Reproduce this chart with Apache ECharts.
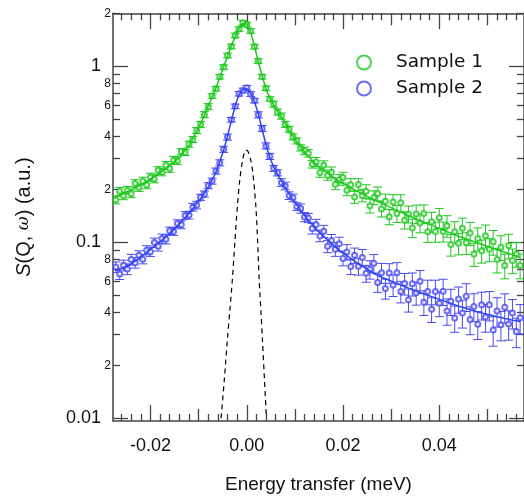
<!DOCTYPE html>
<html><head><meta charset="utf-8">
<script src="https://cdn.jsdelivr.net/npm/echarts@6/dist/echarts.min.js"></script>
<style>html,body{margin:0;padding:0;background:#fff}#c{width:524px;height:501px}</style>
</head><body><div id="c"></div>
<script>
// ---- data ----
const energies = [
-0.0272,-0.0264,-0.0256,-0.0248,-0.0240,-0.0232,-0.0224,-0.0216,-0.0208,-0.0200,
-0.0192,-0.0184,-0.0176,-0.0168,-0.0160,-0.0152,-0.0144,-0.0136,-0.0128,-0.0120,
-0.0112,-0.0104,-0.0096,-0.0088,-0.0080,-0.0072,-0.0064,-0.0056,-0.0048,-0.0040,
-0.0032,-0.0024,-0.0016,-0.0008,0.0000,0.0008,0.0016,0.0024,0.0032,0.0040,
0.0048,0.0056,0.0064,0.0072,0.0080,0.0088,0.0096,0.0104,0.0112,0.0120,
0.0128,0.0136,0.0144,0.0152,0.0160,0.0168,0.0176,0.0184,0.0192,0.0200,
0.0208,0.0216,0.0224,0.0232,0.0240,0.0248,0.0256,0.0264,0.0272,0.0280,
0.0288,0.0296,0.0304,0.0312,0.0320,0.0328,0.0336,0.0344,0.0352,0.0360,
0.0368,0.0376,0.0384,0.0392,0.0400,0.0408,0.0416,0.0424,0.0432,0.0440,
0.0448,0.0456,0.0464,0.0472,0.0480,0.0488,0.0496,0.0504,0.0512,0.0520,
0.0528,0.0536,0.0544,0.0552,0.0560,0.0568];

const sample1 = [
0.1740,0.1947,0.1837,0.1977,0.1887,0.2160,0.2048,0.2230,0.2119,0.2351,
0.2291,0.2563,0.2510,0.2738,0.2628,0.2929,0.2911,0.3276,0.3237,0.3610,
0.3842,0.4321,0.4672,0.5312,0.5897,0.6778,0.7461,0.8724,0.9891,1.152,
1.296,1.497,1.628,1.768,1.726,1.589,1.294,1.071,0.8732,0.7512,
0.6521,0.6097,0.5497,0.5211,0.4681,0.4391,0.3972,0.3771,0.3441,0.3311,
0.3204,0.2778,0.2862,0.2491,0.2738,0.2396,0.2503,0.2140,0.2266,0.2335,
0.1977,0.2125,0.1808,0.2127,0.1847,0.1947,0.1612,0.1799,0.1890,0.1547,
0.1708,0.1398,0.1694,0.1457,0.1677,0.1336,0.1446,0.1207,0.1450,0.1287,
0.1455,0.1147,0.1309,0.1150,0.1378,0.1152,0.1242,0.0970,0.1148,0.0986,
0.1203,0.0993,0.1129,0.0858,0.1050,0.0896,0.1090,0.0912,0.1006,0.0797,
0.0938,0.0738,0.0958,0.0789,0.0859,0.0738];

const sample2 = [
0.0723,0.0661,0.0740,0.0704,0.0798,0.0766,0.0844,0.0802,0.0902,0.0884,
0.0996,0.0948,0.1049,0.1040,0.1161,0.1152,0.1278,0.1257,0.1421,0.1427,
0.1583,0.1628,0.1802,0.1879,0.2098,0.2228,0.2541,0.2829,0.3376,0.3962,
0.4968,0.5921,0.6985,0.7291,0.7556,0.6953,0.6382,0.5298,0.4431,0.3529,
0.3077,0.2631,0.2482,0.2189,0.2091,0.1842,0.1789,0.1598,0.1556,0.1391,
0.1375,0.1197,0.1262,0.1084,0.1155,0.0949,0.1025,0.0914,0.0981,0.0808,
0.0881,0.0728,0.0843,0.0731,0.0820,0.0666,0.0702,0.0760,0.0590,0.0671,
0.0546,0.0669,0.0572,0.0672,0.0526,0.0583,0.0472,0.0582,0.0517,0.0601,
0.0457,0.0525,0.0417,0.0525,0.0450,0.0527,0.0407,0.0462,0.0371,0.0476,
0.0397,0.0493,0.0364,0.0432,0.0342,0.0441,0.0376,0.0441,0.0317,0.0407,
0.0340,0.0428,0.0343,0.0397,0.0311,0.0372];

const fit1 = [
0.1813,0.1854,0.1894,0.1938,0.1986,0.2038,0.2090,0.2144,0.2207,0.2283,
0.2362,0.2441,0.2535,0.2633,0.2738,0.2844,0.2970,0.3150,0.3337,0.3539,
0.3878,0.4278,0.4713,0.5260,0.5957,0.6711,0.7520,0.8647,0.9974,1.141,
1.308,1.483,1.642,1.751,1.741,1.573,1.306,1.060,0.8810,0.7439,
0.6589,0.6035,0.5554,0.5155,0.4732,0.4336,0.4018,0.3729,0.3479,0.3272,
0.3081,0.2924,0.2779,0.2650,0.2559,0.2470,0.2384,0.2301,0.2222,0.2162,
0.2103,0.2043,0.1987,0.1934,0.1885,0.1837,0.1791,0.1747,0.1703,0.1663,
0.1627,0.1589,0.1554,0.1518,0.1484,0.1452,0.1418,0.1387,0.1355,0.1327,
0.1299,0.1274,0.1247,0.1223,0.1198,0.1175,0.1150,0.1128,0.1104,0.1083,
0.1065,0.1045,0.1026,0.1009,0.0991,0.0974,0.0956,0.0940,0.0923,0.0906,
0.0893,0.0878,0.0863,0.0848,0.0834,0.0820];

const fit2 = [
0.0689,0.0703,0.0718,0.0733,0.0753,0.0782,0.0812,0.0844,0.0876,0.0911,
0.0949,0.0987,0.1028,0.1072,0.1116,0.1176,0.1241,0.1309,0.1380,0.1456,
0.1552,0.1659,0.1771,0.1906,0.2066,0.2259,0.2505,0.2867,0.3341,0.4008,
0.4915,0.5988,0.6906,0.7362,0.7470,0.7034,0.6310,0.5364,0.4374,0.3581,
0.3025,0.2678,0.2434,0.2233,0.2048,0.1879,0.1748,0.1631,0.1522,0.1423,
0.1335,0.1260,0.1191,0.1129,0.1079,0.1032,0.0986,0.0942,0.0900,0.0869,
0.0839,0.0809,0.0781,0.0754,0.0732,0.0709,0.0688,0.0667,0.0648,0.0633,
0.0620,0.0608,0.0596,0.0584,0.0572,0.0561,0.0549,0.0539,0.0528,0.0518,
0.0508,0.0500,0.0491,0.0482,0.0474,0.0466,0.0457,0.0449,0.0442,0.0433,
0.0427,0.0421,0.0414,0.0408,0.0402,0.0397,0.0392,0.0387,0.0382,0.0377,
0.0374,0.0369,0.0365,0.0361,0.0358,0.0354];

// relative error bars, percent
const err1 = [
5,5,5,5,5,5,5,5,5,5, 5,5,5,5,5,5,5,4,4,4, 4,4,4,4,4,3,3,3,3,3, 3,3,3,3,3,3,3,3,3,3,
3,4,4,4,4,4,4,4,4,5, 5,5,6,6,6,6,7,7,7,7, 7,8,8,8,8,9,9,9,9,10, 10,10,10,11,11,11,11,12,12,12,
12,13,13,13,13,13,14,14,14,14, 14,14,15,15,15,15,15,15,16,16, 16,16,16,16,16,16];
const err2 = [
7,7,7,7,7,7,6,6,6,6, 6,6,6,6,5,5,5,5,5,5, 5,5,4,4,4,4,4,4,4,4, 3,3,3,3,3,3,3,4,4,4,
4,4,4,5,5,5,5,5,6,6, 6,7,7,7,8,8,8,9,9,9, 10,10,10,11,11,11,12,12,12,13, 13,13,14,14,14,14,15,15,15,15,
16,16,16,16,16,17,17,17,17,17, 18,18,18,18,18,18,18,19,19,19, 19,19,19,19,19,19];

// resolution function (dashed)
const resEnergies = [-0.00533,-0.00465,-0.00403,-0.00351,-0.00300,-0.00248,-0.00196,-0.00145,-0.00093,-0.00052,-0.00017,
  0.00021,0.00072,0.00124,0.00190,0.00227,0.00258,0.00293,0.00326,0.00368,0.00409];
const resValues = [0.0100,0.0167,0.0279,0.0412,0.0611,0.0991,0.1587,0.226,0.2859,0.3217,0.334,
  0.3302,0.3013,0.2508,0.1587,0.0991,0.0611,0.0412,0.0279,0.0165,0.0100];

// tick values
const xLabelTicks = [-0.02, 0, 0.02, 0.04];
const xMidTicks = [-0.01, 0.01, 0.03, 0.05];
const xMinorTicks = [-0.026,-0.024,-0.022,-0.018,-0.016,-0.014,-0.012,-0.008,-0.006,-0.004,-0.002,
  0.002,0.004,0.006,0.008,0.012,0.014,0.016,0.018,0.022,0.024,0.026,0.028,0.032,0.034,0.036,0.038,
  0.042,0.044,0.046,0.048,0.052,0.054,0.056];
const yMajorTicks = [0.01, 0.1, 1];
const yMinorTicks = [0.02,0.03,0.04,0.05,0.06,0.07,0.08,0.09,0.2,0.3,0.4,0.5,0.6,0.7,0.8,0.9,2];
const yMinorLabels = [0.02,0.04,0.06,0.08,0.2,0.4,0.6,0.8,2];

// ---- styling ----
const GREEN = '#1ec81e', BLUE = '#4a4af2', BLUE_LINE = '#2b45f4';
const X_MIN = -0.02779, X_MAX = 0.0576, Y_MIN = 0.00965, Y_MAX = 2;
const FONT = '"Liberation Sans", Arial, sans-serif';
const AX = '#444';

function xAx(pos, ticks, len, label, line) {
  return {
    type: 'value', position: pos, min: X_MIN, max: X_MAX,
    axisLine: {show: line, onZero: false, lineStyle: {color: AX, width: 1.5}},
    axisTick: {show: true, inside: true, length: len, customValues: ticks, lineStyle: {color: AX, width: 1.3}},
    axisLabel: label ? {show: true, customValues: ticks, margin: 16, fontSize: 18, color: '#111', fontFamily: FONT,
      formatter: v => (Math.abs(v) < 1e-12 ? '0.00' : v.toFixed(2))} : {show: false},
    splitLine: {show: false}
  };
}
function yAx(pos, ticks, len, labels, fs, margin, fmt, line) {
  return {
    type: 'log', logBase: 10, position: pos, min: Y_MIN, max: Y_MAX,
    axisLine: {show: line, onZero: false, lineStyle: {color: AX, width: 1.5}},
    axisTick: {show: true, inside: true, length: len, customValues: ticks, lineStyle: {color: AX, width: 1.3}},
    axisLabel: labels ? {show: true, customValues: labels, margin: margin, fontSize: fs, color: '#111', fontFamily: FONT, formatter: fmt} : {show: false},
    splitLine: {show: false}, minorTick: {show: false}
  };
}
const majFmt = v => String(Number(v.toPrecision(2)));
const minFmt = v => String(Math.round(v / Math.pow(10, Math.floor(Math.log10(v) + 1e-9))));

const xAxes = [
  xAx('bottom', xLabelTicks, 16, true, true),
  xAx('bottom', xMidTicks, 12, false, false),
  xAx('bottom', xMinorTicks, 7, false, false),
  xAx('top', xLabelTicks, 16, false, true),
  xAx('top', xMidTicks, 12, false, false),
  xAx('top', xMinorTicks, 7, false, false)
];
Object.assign(xAxes[0], {name: 'Energy transfer (meV)', nameLocation: 'middle', nameGap: 54,
  nameTextStyle: {fontSize: 19, color: '#111', fontFamily: FONT}});

const yAxes = [
  yAx('left', yMajorTicks, 15, yMajorTicks, 18, 12, majFmt, true),
  yAx('left', yMinorTicks, 7, yMinorLabels, 12, 2, minFmt, false),
  yAx('right', yMajorTicks, 15, null, 0, 0, null, true),
  yAx('right', yMinorTicks, 7, null, 0, 0, null, false)
];
Object.assign(yAxes[0], {name: '{i|S}(Q, {w|ω}) (a.u.)', nameLocation: 'middle', nameGap: 79, nameRotate: 90,
  nameTextStyle: {fontSize: 20, color: '#111', fontFamily: FONT,
    rich: {i: {fontSize: 20, fontStyle: 'italic', fontFamily: FONT, color: '#111'},
           w: {fontSize: 17, fontStyle: 'italic', fontFamily: '"DejaVu Serif", serif', color: '#111'}}}});

function errBars(values, errs) {
  return energies.map((e, i) => [e, values[i] * (1 - errs[i] / 100), values[i] * (1 + errs[i] / 100)]);
}
function barRenderer(color) {
  return function (params, api) {
    const x = api.value(0);
    const a = api.coord([x, api.value(1)]);
    const b = api.coord([x, api.value(2)]);
    const w = 4.5;
    const st = () => ({stroke: color, lineWidth: 1});
    return {type: 'group', children: [
      {type: 'line', shape: {x1: a[0], y1: a[1], x2: b[0], y2: b[1]}, style: st()},
      {type: 'line', shape: {x1: a[0] - w, y1: a[1], x2: a[0] + w, y2: a[1]}, style: st()},
      {type: 'line', shape: {x1: b[0] - w, y1: b[1], x2: b[0] + w, y2: b[1]}, style: st()}
    ]};
  };
}

const chart = echarts.init(document.getElementById('c'), null, {renderer: 'canvas'});
chart.setOption({
  animation: false,
  backgroundColor: '#fff',
  grid: {left: 113, top: 13.3, width: 413.3, height: 407.7},
  xAxis: xAxes,
  yAxis: yAxes,
  legend: {
    orient: 'vertical', left: 351, top: 48, itemWidth: 14, itemHeight: 14, itemGap: 7,
    icon: 'emptyCircle', itemStyle: {borderWidth: 1.2},
    textStyle: {fontFamily: '"DejaVu Sans", sans-serif', fontSize: 18.5, color: '#111', padding: [0, 0, 0, 20]},
    data: ['Sample 1', 'Sample 2']
  },
  series: [
    {type: 'custom', name: 'err1', data: errBars(sample1, err1), encode: {x: 0, y: [1, 2]},
      renderItem: barRenderer(GREEN), clip: true, silent: true, z: 2},
    {type: 'custom', name: 'err2', data: errBars(sample2, err2), encode: {x: 0, y: [1, 2]},
      renderItem: barRenderer(BLUE), clip: true, silent: true, z: 2},
    {type: 'scatter', name: 'Sample 1', data: energies.map((e, i) => [e, sample1[i]]),
      symbol: 'emptyCircle', symbolSize: 5, itemStyle: {color: GREEN, borderWidth: 1}, z: 3, clip: true},
    {type: 'scatter', name: 'Sample 2', data: energies.map((e, i) => [e, sample2[i]]),
      symbol: 'emptyCircle', symbolSize: 5, itemStyle: {color: BLUE, borderWidth: 1}, z: 3, clip: true},
    {type: 'line', name: 'fit1', data: energies.map((e, i) => [e, fit1[i]]), showSymbol: false, symbol: 'none',
      lineStyle: {color: GREEN, width: 1.5}, z: 4, clip: true},
    {type: 'line', name: 'fit2', data: energies.map((e, i) => [e, fit2[i]]), showSymbol: false, symbol: 'none',
      lineStyle: {color: BLUE_LINE, width: 1.5}, z: 4, clip: true},
    {type: 'line', name: 'resolution', data: resEnergies.map((e, i) => [e, resValues[i]]), showSymbol: false, symbol: 'none',
      smooth: 0.3, lineStyle: {color: '#000', width: 1.2, type: [5, 4]}, z: 4, clip: true}
  ]
});
</script></body></html>
